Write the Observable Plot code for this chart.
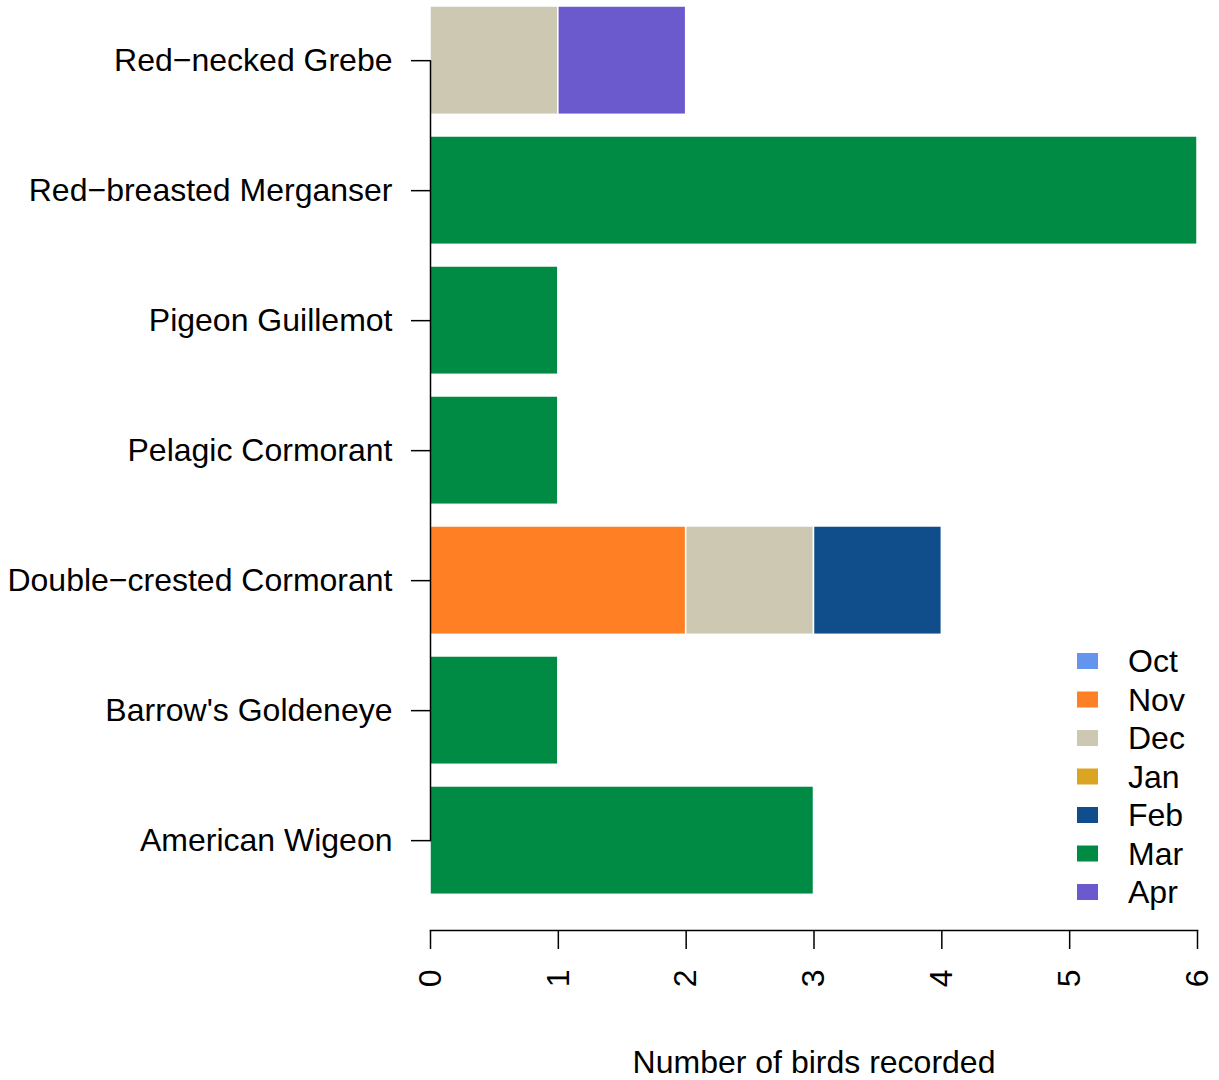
<!DOCTYPE html>
<html><head><meta charset="utf-8">
<script src="https://cdn.jsdelivr.net/npm/d3@7"></script>
<script src="https://cdn.jsdelivr.net/npm/@observablehq/plot@0.6"></script>
<style>
body{margin:0;background:#fff}
svg{font-family:"Liberation Sans",Arial,Helvetica,sans-serif}
</style>
</head><body><div id="chart"></div>
<script>
const species = ["Red−necked Grebe","Red−breasted Merganser","Pigeon Guillemot","Pelagic Cormorant","Double−crested Cormorant","Barrow's Goldeneye","American Wigeon"];
const months = ["Oct","Nov","Dec","Jan","Feb","Mar","Apr"];
const colors = ["#6495ED","#FF7F24","#CDC8B1","#DAA520","#104E8B","#008B45","#6A5ACD"];
const oct = [0,0,0,0,0,0,0];
const nov = [0,0,0,0,2,0,0];
const dec = [1,0,0,0,1,0,0];
const jan = [0,0,0,0,0,0,0];
const feb = [0,0,0,0,1,0,0];
const mar = [0,6,1,1,0,1,3];
const apr = [1,0,0,0,0,0,0];
const xTicks = [0,1,2,3,4,5,6];
const xLabel = "Number of birds recorded";

const series = [oct,nov,dec,jan,feb,mar,apr];
const data = [];
species.forEach((s,i) => {
  months.forEach((m,j) => {
    const v = series[j][i];
    if (v > 0) data.push({species: s, month: m, count: v});
  });
});

const FS = 32;
const plot = Plot.plot({
  width: 1219, height: 1080,
  marginLeft: 430, marginRight: 22, marginTop: 6, marginBottom: 150,
  style: {fontSize: FS + "px", color: "black", background: "white"},
  x: {domain: [0,6]},
  y: {domain: species, range: [6, 894.3], paddingInner: 0.1667, paddingOuter: 0, round: false},
  color: {domain: months, range: colors},
  marks: [
    Plot.barX(data, Plot.stackX({x: "count", y: "species", fill: "month", stroke: "white", strokeWidth: 1.5})),
    Plot.frame({anchor: "bottom", stroke: "black", strokeWidth: 1.5}),
    Plot.line([species[0], species[species.length-1]], {x: () => 0, y: d => d, stroke: "black", strokeWidth: 1.5}),
    Plot.axisX({ticks: xTicks, tickSize: 19, tickPadding: 20, tickRotate: -90, tickFormat: d => String(d), label: null, fontSize: FS, strokeWidth: 1.5}),
    Plot.axisY({tickSize: 19, tickPadding: 19, label: null, fontSize: FS, strokeWidth: 1.5}),
    Plot.text([xLabel], {text: d => d, frameAnchor: "bottom", dy: 132, lineAnchor: "middle", fontSize: FS, fill: "black"})
  ]
});

const svg = d3.select(plot);
const lg = svg.append("g").attr("font-size", FS).attr("text-anchor", "start");
months.forEach((m, i) => {
  lg.append("rect").attr("x", 1077).attr("y", 653 + i * 38.5).attr("width", 21).attr("height", 16).attr("fill", colors[i]);
  lg.append("text").attr("x", 1128).attr("y", 661 + i * 38.5).attr("dy", "0.35em").attr("text-anchor", "start").attr("fill", "black").text(m);
});

document.getElementById("chart").appendChild(plot);
</script>
</body></html>
